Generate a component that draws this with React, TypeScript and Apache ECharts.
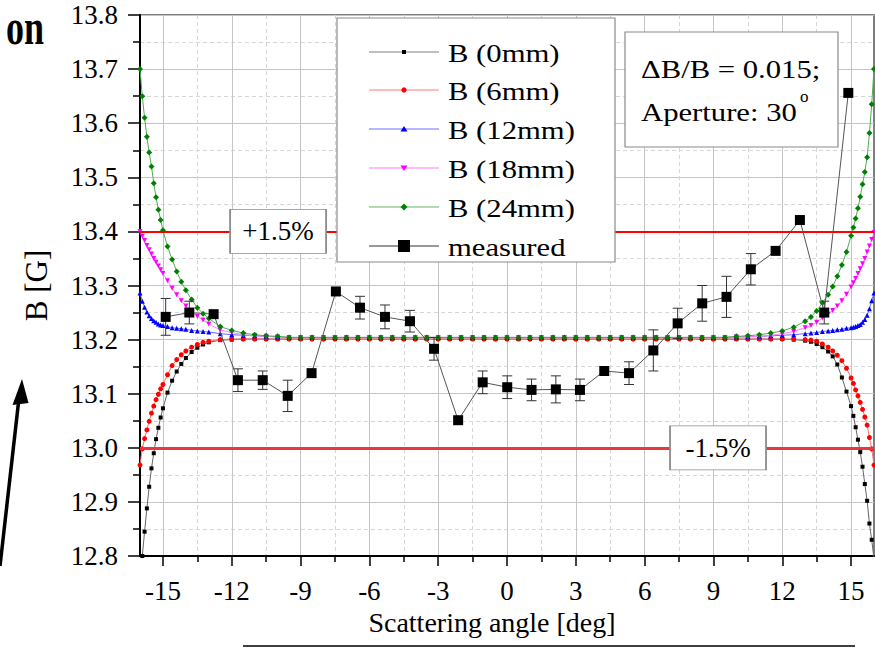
import React, { useEffect, useRef } from 'react';
import * as echarts from 'echarts';

const FONT = "'Liberation Serif', 'Times New Roman', Times, serif";

// Scattering angles (deg) at which the simulated curves were read
const angles = [
  -16, -15.9, -15.8, -15.7, -15.6, -15.5, -15.4, -15.3, -15.2, -15.1, -15,
  -14.8, -14.6, -14.4, -14.2, -14, -13.75, -13.5, -13.25, -13, -12.5, -12, -11.5, -11, -10.5, -10,
  -9.5, -9, -8.5, -8, -7.5, -7, -6.5, -6, -5.5, -5, -4.5, -4, -3.5, -3, -2.5, -2, -1.5, -1, -0.5, 0,
  0.5, 1, 1.5, 2, 2.5, 3, 3.5, 4, 4.5, 5, 5.5, 6, 6.5, 7, 7.5, 8, 8.5, 9, 9.5,
  10, 10.5, 11, 11.5, 12, 12.5, 13, 13.25, 13.5, 13.75, 14, 14.2, 14.4, 14.6, 14.8,
  15, 15.1, 15.2, 15.3, 15.4, 15.5, 15.6, 15.7, 15.8, 15.9, 16,
];

const b0mm = [
  12.770, 12.800, 12.845, 12.888, 12.928, 12.962, 12.990, 13.016, 13.037, 13.056, 13.073,
  13.102, 13.124, 13.141, 13.155, 13.166, 13.177, 13.185, 13.191, 13.195, 13.199, 13.200, 13.201, 13.201, 13.201, 13.201,
  13.201, 13.201, 13.201, 13.201, 13.201, 13.201, 13.201, 13.201, 13.201, 13.201, 13.201, 13.201, 13.201,
  13.201, 13.201, 13.201, 13.201, 13.201, 13.201, 13.201, 13.201, 13.201, 13.201, 13.201, 13.201, 13.201,
  13.201, 13.201, 13.201, 13.201, 13.201, 13.201, 13.201, 13.201, 13.201, 13.201, 13.201, 13.201, 13.201,
  13.201, 13.201, 13.201, 13.201, 13.201, 13.200, 13.198, 13.196, 13.192, 13.186, 13.178, 13.169, 13.154, 13.130, 13.104,
  13.077, 13.059, 13.038, 13.015, 12.992, 12.965, 12.933, 12.902, 12.860, 12.830, 12.795,
];

const b6mm = [
  12.968, 12.998, 13.017, 13.033, 13.049, 13.064, 13.077, 13.089, 13.099, 13.109, 13.117,
  13.135, 13.152, 13.163, 13.172, 13.179, 13.186, 13.191, 13.195, 13.197, 13.200, 13.201, 13.201, 13.201, 13.201, 13.201,
  13.201, 13.201, 13.201, 13.201, 13.201, 13.201, 13.201, 13.201, 13.201, 13.201, 13.201, 13.201, 13.201,
  13.201, 13.201, 13.201, 13.201, 13.201, 13.201, 13.201, 13.201, 13.201, 13.201, 13.201, 13.201, 13.201,
  13.201, 13.201, 13.201, 13.201, 13.201, 13.201, 13.201, 13.201, 13.201, 13.201, 13.201, 13.201, 13.201,
  13.201, 13.201, 13.201, 13.201, 13.201, 13.201, 13.200, 13.199, 13.197, 13.192, 13.186, 13.179, 13.171, 13.161, 13.147,
  13.129, 13.119, 13.107, 13.096, 13.084, 13.071, 13.057, 13.042, 13.019, 12.998, 12.968,
];

const b12mm = [
  13.286, 13.271, 13.260, 13.251, 13.244, 13.239, 13.235, 13.232, 13.229, 13.227, 13.226,
  13.224, 13.222, 13.221, 13.220, 13.219, 13.217, 13.216, 13.215, 13.214, 13.211, 13.209, 13.208, 13.207, 13.206, 13.205,
  13.204, 13.204, 13.204, 13.204, 13.204, 13.204, 13.204, 13.204, 13.204, 13.204, 13.204, 13.204, 13.204,
  13.204, 13.204, 13.204, 13.204, 13.204, 13.204, 13.204, 13.204, 13.204, 13.204, 13.204, 13.204, 13.204,
  13.204, 13.204, 13.204, 13.204, 13.204, 13.204, 13.204, 13.204, 13.204, 13.204, 13.204, 13.204, 13.204,
  13.205, 13.205, 13.206, 13.207, 13.208, 13.209, 13.211, 13.212, 13.213, 13.215, 13.216, 13.217, 13.218, 13.219, 13.221,
  13.222, 13.223, 13.224, 13.226, 13.228, 13.232, 13.237, 13.245, 13.257, 13.272, 13.286,
];

const b18mm = [
  13.400, 13.391, 13.383, 13.374, 13.366, 13.358, 13.350, 13.343, 13.336, 13.329, 13.322,
  13.309, 13.295, 13.283, 13.272, 13.262, 13.252, 13.243, 13.236, 13.229, 13.218, 13.213, 13.209, 13.207, 13.206, 13.205,
  13.204, 13.204, 13.204, 13.204, 13.204, 13.204, 13.204, 13.204, 13.204, 13.204, 13.204, 13.204, 13.204,
  13.204, 13.204, 13.204, 13.204, 13.204, 13.204, 13.204, 13.204, 13.204, 13.204, 13.204, 13.204, 13.204,
  13.204, 13.204, 13.204, 13.204, 13.204, 13.204, 13.204, 13.204, 13.204, 13.204, 13.204, 13.204, 13.204,
  13.205, 13.205, 13.206, 13.208, 13.211, 13.215, 13.222, 13.226, 13.232, 13.240, 13.247, 13.254, 13.262, 13.272, 13.284,
  13.297, 13.305, 13.313, 13.322, 13.331, 13.340, 13.350, 13.362, 13.373, 13.385, 13.398,
];

const b24mm = [
  13.700, 13.650, 13.610, 13.575, 13.546, 13.520, 13.489, 13.463, 13.440, 13.421, 13.402,
  13.372, 13.348, 13.326, 13.307, 13.291, 13.274, 13.259, 13.248, 13.239, 13.224, 13.217, 13.212, 13.209, 13.207, 13.206,
  13.204, 13.204, 13.204, 13.204, 13.204, 13.204, 13.204, 13.204, 13.204, 13.204, 13.204, 13.204, 13.204,
  13.204, 13.204, 13.204, 13.204, 13.204, 13.204, 13.204, 13.204, 13.204, 13.204, 13.204, 13.204, 13.204,
  13.204, 13.204, 13.204, 13.204, 13.204, 13.204, 13.204, 13.204, 13.204, 13.204, 13.204, 13.204, 13.204,
  13.206, 13.207, 13.209, 13.212, 13.216, 13.223, 13.234, 13.242, 13.253, 13.268, 13.283, 13.298, 13.317, 13.338, 13.362,
  13.392, 13.407, 13.424, 13.443, 13.464, 13.487, 13.510, 13.537, 13.582, 13.635, 13.700,
];

// Measured points
const measAngles = [
  -14.88, -13.85, -12.79, -11.73, -10.65, -9.56, -8.52, -7.46, -6.41, -5.32, -4.23, -3.18, -2.13, -1.06, 0.01,
  1.07, 2.13, 3.18, 4.24, 5.32, 6.38, 7.44, 8.51, 9.57, 10.63, 11.71, 12.77, 13.83, 14.88,
];
const measValues = [
  13.242, 13.250, 13.247, 13.125, 13.125, 13.096, 13.138, 13.289, 13.259, 13.242, 13.234, 13.183, 13.051, 13.121, 13.112,
  13.107, 13.108, 13.107, 13.142, 13.138, 13.180, 13.230, 13.267, 13.279, 13.330, 13.364, 13.421, 13.250, 13.656,
];
const measErrors = [
  0.034, 0.021, 0, 0.021, 0.017, 0.029, 0, 0, 0.021, 0.022, 0.020, 0.021, 0, 0.021, 0.021,
  0.020, 0.025, 0.020, 0, 0.021, 0.038, 0.028, 0.033, 0.038, 0.029, 0, 0, 0.021, 0,
];

// ±1.5 % limits
const limitLevels = [13.4, 13.0];
const limitNames = ['+1.5%', '-1.5%'];
const limitLabelAngles = [-9.98, 9.2];

const xMajorTicks = [-15, -12, -9, -6, -3, 0, 3, 6, 9, 12, 15];
const xMinorTicks = [-13.5, -10.5, -7.5, -4.5, -1.5, 1.5, 4.5, 7.5, 10.5, 13.5];

const seriesNames = ['B (0mm)', 'B (6mm)', 'B (12mm)', 'B (18mm)', 'B (24mm)', 'measured'];

export default function App() {
  const ref = useRef<HTMLDivElement>(null);

  useEffect(() => {
    if (!ref.current) return;
    const chart = echarts.init(ref.current, undefined, { renderer: 'svg' });

    const curve = (name: string, vals: number[], symbol: string, size: number, color: string, lineColor: string, rotate = 0, extra: any = {}) => ({
      name,
      type: 'line',
      data: angles.map((a, i) => [a, vals[i]]),
      symbol,
      symbolSize: size,
      symbolRotate: rotate,
      showSymbol: true,
      itemStyle: { color },
      lineStyle: { color: lineColor, width: 1 },
      silent: true,
      clip: true,
      z: 3,
      ...extra,
    });

    const textStyle = { fontFamily: FONT, color: '#000' };

    const rowsY = [52, 90, 129, 168, 207, 246];
    const lineColors = ['#808080', '#ff7a7a', '#6f6fff', '#ff7aff', '#5fb85f', '#333333'];
    const graphics: any[] = [];
    graphics.push({ type: 'rect', z: 100, shape: { x: 337, y: 18, width: 278, height: 244 }, style: { fill: '#fff', stroke: '#8a8a8a', lineWidth: 1.2 } });
    rowsY.forEach((ry, i) => {
      graphics.push({ type: 'line', z: 101, shape: { x1: 369, y1: ry, x2: 439, y2: ry }, style: { stroke: lineColors[i], lineWidth: 1 } });
      graphics.push({
        type: 'text', z: 101, x: 448, y: ry + 1, scaleX: 1.18,
        style: { text: seriesNames[i], fontSize: 26, fontFamily: FONT, fill: '#000', align: 'left', verticalAlign: 'middle', textAlign: 'left', textVerticalAlign: 'middle' },
      });
    });
    graphics.push({ type: 'rect', z: 102, shape: { x: 402, y: 50, width: 4, height: 4 }, style: { fill: '#000' } });
    graphics.push({ type: 'circle', z: 102, shape: { cx: 404, cy: 90, r: 2.6 }, style: { fill: '#ff0000' } });
    graphics.push({ type: 'polygon', z: 102, shape: { points: [[404, 126], [400.5, 131.5], [407.5, 131.5]] }, style: { fill: '#0000ff' } });
    graphics.push({ type: 'polygon', z: 102, shape: { points: [[400.5, 165.5], [407.5, 165.5], [404, 171]] }, style: { fill: '#ff00ff' } });
    graphics.push({ type: 'polygon', z: 102, shape: { points: [[404, 203.5], [407.5, 207], [404, 210.5], [400.5, 207]] }, style: { fill: '#008000' } });
    graphics.push({ type: 'rect', z: 102, shape: { x: 398, y: 240, width: 12, height: 12 }, style: { fill: '#000' } });

    // annotation box
    graphics.push({ type: 'rect', z: 100, shape: { x: 625, y: 32, width: 213, height: 115 }, style: { fill: '#fff', stroke: '#8a8a8a', lineWidth: 1.2 } });
    graphics.push({
      type: 'text', z: 101, x: 641, y: 69, scaleX: 1.18,
      style: { text: '\u0394B/B = 0.015;', fontSize: 26, fontFamily: FONT, fill: '#000', align: 'left', verticalAlign: 'middle', textAlign: 'left', textVerticalAlign: 'middle' },
    });
    graphics.push({
      type: 'text', z: 101, x: 641, y: 112, scaleX: 1.18,
      style: { text: 'Aperture: 30', fontSize: 26, fontFamily: FONT, fill: '#000', align: 'left', verticalAlign: 'middle', textAlign: 'left', textVerticalAlign: 'middle' },
    });
    graphics.push({
      type: 'text', z: 101, x: 800, y: 96,
      style: { text: 'o', fontSize: 17, fontFamily: FONT, fill: '#000', align: 'left', verticalAlign: 'middle', textAlign: 'left', textVerticalAlign: 'middle' },
    });

    // fragments around the figure
    graphics.push({
      type: 'text', z: 101, x: 6, y: 27, scaleY: 1.4,
      style: { text: 'on', fontSize: 36, fontWeight: 'bold', fontFamily: FONT, fill: '#000', align: 'left', verticalAlign: 'middle', textAlign: 'left', textVerticalAlign: 'middle' },
    });
    graphics.push({ type: 'line', z: 101, shape: { x1: 0, y1: 566, x2: 19, y2: 398 }, style: { stroke: '#000', lineWidth: 3.5 } });
    graphics.push({ type: 'polygon', z: 101, shape: { points: [[22, 379], [12.5, 405], [28.5, 403]] }, style: { fill: '#000' } });
    graphics.push({ type: 'line', z: 101, shape: { x1: 243, y1: 646, x2: 855, y2: 646 }, style: { stroke: '#000', lineWidth: 1.5 } });

    const option: any = {
      animation: false,
      backgroundColor: '#fff',
      grid: { left: 140, right: 1, top: 15, bottom: 91, show: true, borderColor: '#555', borderWidth: 1.5 },
      xAxis: [
        {
          type: 'value', min: -16, max: 16, position: 'bottom', offset: 0,
          axisLine: { show: true, onZero: false, lineStyle: { color: '#000', width: 2 } },
          axisTick: { show: true, length: 10, customValues: xMajorTicks, lineStyle: { color: '#000', width: 1.5 } },
          axisLabel: { show: true, customValues: xMajorTicks, margin: 21, fontSize: 27, ...textStyle, formatter: (v: number) => String(v) },
          splitLine: { show: true, lineStyle: { color: '#c4c4c4', width: 1 } },
          name: 'Scattering angle [deg]', nameLocation: 'middle', nameGap: 50,
          nameTextStyle: { fontSize: 28, ...textStyle, padding: [0, 30, 0, 0] },
        },
        {
          type: 'value', min: -16, max: 16, position: 'bottom', offset: 0,
          axisLine: { show: false, onZero: false },
          axisTick: { show: true, length: 6, customValues: xMinorTicks, lineStyle: { color: '#000', width: 1.5 } },
          axisLabel: { show: false },
          splitLine: { show: true, lineStyle: { color: '#d6d6d6', width: 1, type: [4, 3] } },
        },
      ],
      yAxis: {
        type: 'value', min: 12.8, max: 13.8, interval: 0.1,
        axisLine: { show: true, onZero: false, lineStyle: { color: '#000', width: 2 } },
        axisTick: { show: true, length: 12, lineStyle: { color: '#000', width: 1.5 } },
        minorTick: { show: true, splitNumber: 2, length: 7, lineStyle: { color: '#000', width: 1.5 } },
        axisLabel: { margin: 22, fontSize: 27, ...textStyle, formatter: (v: number) => v.toFixed(1) },
        splitLine: { show: true, lineStyle: { color: '#c4c4c4', width: 1 } },
        minorSplitLine: { show: true, lineStyle: { color: '#d6d6d6', width: 1, type: [4, 3] } },
        name: 'B [G]', nameLocation: 'middle', nameGap: 88, nameRotate: 90,
        nameTextStyle: { fontSize: 31, ...textStyle },
      },
      graphic: { elements: graphics },
      series: [
        curve(seriesNames[0], b0mm, 'rect', 4, '#000000', '#666666', 0, {
          markLine: {
            silent: true, symbol: 'none', label: { show: false },
            data: [
              { yAxis: limitLevels[0], lineStyle: { color: '#ff0000', width: 2, type: 'solid' } },
              { yAxis: limitLevels[1], lineStyle: { color: '#e8383d', width: 3, type: 'solid' } },
            ],
          },
        }),
        curve(seriesNames[1], b6mm, 'circle', 5, '#ff0000', '#ff7070'),
        curve(seriesNames[2], b12mm, 'triangle', 5, '#0000ff', '#6a6aff'),
        curve(seriesNames[3], b18mm, 'triangle', 5, '#ff00ff', '#ff80ff', 180),
        curve(seriesNames[4], b24mm, 'diamond', 6, '#008000', '#4caf50'),
        {
          name: 'errors', type: 'custom', z: 4, silent: true,
          data: measAngles.map((a, i) => [a, measValues[i], measErrors[i]]),
          encode: { x: 0, y: 1 },
          renderItem: (params: any, api: any) => {
            const x = api.value(0);
            const y = api.value(1);
            const e = api.value(2);
            if (!e) return { type: 'group', children: [] };
            const top = api.coord([x, y + e]);
            const bot = api.coord([x, y - e]);
            const w = 5;
            const style = { stroke: '#333', lineWidth: 1 };
            return {
              type: 'group',
              children: [
                { type: 'line', shape: { x1: top[0], y1: top[1], x2: bot[0], y2: bot[1] }, style },
                { type: 'line', shape: { x1: top[0] - w, y1: top[1], x2: top[0] + w, y2: top[1] }, style },
                { type: 'line', shape: { x1: bot[0] - w, y1: bot[1], x2: bot[0] + w, y2: bot[1] }, style },
              ],
            };
          },
        },
        {
          name: seriesNames[5], type: 'line', z: 5, silent: true,
          data: measAngles.map((a, i) => [a, measValues[i]]),
          symbol: 'rect', symbolSize: 10, showSymbol: true,
          itemStyle: { color: '#000' },
          lineStyle: { color: '#555', width: 1 },
        },
        {
          name: 'limits', type: 'scatter', z: 6, silent: true,
          data: limitNames.map((n, i) => ({ name: n, value: [limitLabelAngles[i], limitLevels[i]] })),
          symbol: 'rect', symbolSize: [96, 44],
          itemStyle: { color: '#fff', borderColor: '#8a8a8a', borderWidth: 1.2, opacity: 1 },
          label: { show: true, position: 'inside', formatter: '{b}', fontSize: 27, ...textStyle },
        },
      ],
    };

    chart.setOption(option);
    return () => chart.dispose();
  }, []);

  return <div ref={ref} style={{ position: 'fixed', left: 0, top: 0, width: 875, height: 647, background: '#fff' }} />;
}
